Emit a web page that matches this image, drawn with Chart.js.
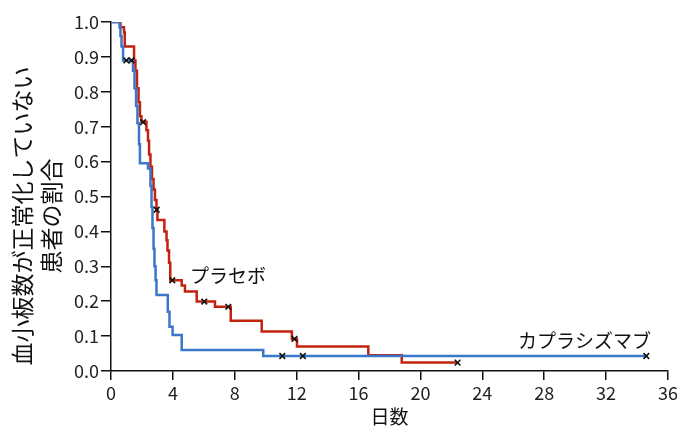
<!DOCTYPE html>
<html>
<head>
<meta charset="utf-8">
<script src="https://cdn.jsdelivr.net/npm/chart.js@4.4.1/dist/chart.umd.min.js"></script>
<style>
  html, body { margin: 0; padding: 0; background: #fff; }
  #chart { display: block; }
</style>
</head>
<body>
<canvas id="chart" width="681" height="430"></canvas>
<script>
// --- Data (days, fraction of patients whose platelet count has not normalised) ---
// Placebo: Kaplan-Meier steps [day, survival]
const placeboSteps = [
  [0, 1.0], [0.61, 0.985], [0.84, 0.97], [0.89, 0.93], [1.49, 0.89], [1.58, 0.86],
  [1.68, 0.81], [1.78, 0.77], [1.87, 0.73], [1.97, 0.714], [2.29, 0.69], [2.39, 0.66],
  [2.46, 0.62], [2.55, 0.585], [2.65, 0.55], [2.75, 0.52], [2.84, 0.49], [2.94, 0.462],
  [3.0, 0.433], [3.45, 0.40], [3.59, 0.375], [3.65, 0.345], [3.75, 0.31], [3.83, 0.26],
  [4.57, 0.245], [4.78, 0.228], [5.54, 0.199], [6.72, 0.184], [7.74, 0.144],
  [9.74, 0.113], [11.69, 0.092], [12.02, 0.07], [16.63, 0.045], [18.79, 0.024], [22.4, 0.024]
];
const placeboCensored = [
  [2.07, 0.713], [2.95, 0.462], [3.96, 0.26], [6.03, 0.199], [7.58, 0.184], [11.86, 0.092], [22.4, 0.024]
];

// Caplacizumab
const caplaSteps = [
  [0, 1.0], [0.55, 0.985], [0.61, 0.96], [0.68, 0.93], [0.78, 0.89], [1.42, 0.86],
  [1.52, 0.81], [1.62, 0.76], [1.71, 0.71], [1.81, 0.65], [1.87, 0.595], [2.39, 0.58],
  [2.55, 0.53], [2.62, 0.47], [2.68, 0.41], [2.75, 0.35], [2.81, 0.30], [2.88, 0.26],
  [2.94, 0.218], [3.67, 0.17], [3.78, 0.127], [3.98, 0.103], [4.57, 0.06], [9.84, 0.043],
  [34.6, 0.043]
];
const caplaCensored = [
  [0.99, 0.89], [1.33, 0.89], [11.07, 0.043], [12.4, 0.043], [34.6, 0.043]
];

const xTicks = [0, 4, 8, 12, 16, 20, 24, 28, 32, 36];
const yTicks = [0, 0.1, 0.2, 0.3, 0.4, 0.5, 0.6, 0.7, 0.8, 0.9, 1.0];

const seriesLabels = [
  { text: 'プラセボ', x: 5.1, y: 0.272 },
  { text: 'カプラシズマブ', x: 26.3, y: 0.086 }
];
const yTitleLines = ['血小板数が正常化していない', '患者の割合'];
const xTitle = '日数';

// --- Styling ---
const RED = '#c3220f';
const BLUE = '#3a77c9';
const FONT = '"Noto Sans CJK JP", "Noto Sans", sans-serif';

const toXY = arr => arr.map(([x, y]) => ({ x, y }));

// Draw in-plot series labels and the two-line y title
const textPlugin = {
  id: 'textPlugin',
  afterDraw(chart) {
    const { ctx, scales: { x, y } } = chart;
    ctx.save();
    ctx.fillStyle = '#111';
    ctx.font = '19px ' + FONT;
    ctx.textBaseline = 'middle';
    ctx.textAlign = 'left';
    seriesLabels.forEach(l => {
      ctx.fillText(l.text, x.getPixelForValue(l.x), y.getPixelForValue(l.y));
    });

    // y title, rotated
    ctx.font = '23px ' + FONT;
    ctx.textAlign = 'center';
    const cy = 216;
    const cols = [22, 51];
    yTitleLines.forEach((line, i) => {
      ctx.save();
      ctx.translate(cols[i], cy);
      ctx.rotate(-Math.PI / 2);
      ctx.fillText(line, 0, 0);
      ctx.restore();
    });
    ctx.restore();
  }
};

Chart.defaults.font.family = FONT;
Chart.defaults.color = '#222';

new Chart(document.getElementById('chart'), {
  type: 'line',
  data: {
    datasets: [
      {
        type: 'scatter',
        label: 'censored',
        data: toXY(placeboCensored.concat(caplaCensored)),
        pointStyle: 'crossRot',
        pointRadius: 4,
        borderColor: '#111',
        backgroundColor: '#111',
        borderWidth: 1.6,
        showLine: false
      },
      {
        label: 'カプラシズマブ',
        data: toXY(caplaSteps),
        stepped: true,
        borderColor: BLUE,
        borderWidth: 2.5,
        pointRadius: 0,
        fill: false
      },
      {
        label: 'プラセボ',
        data: toXY(placeboSteps),
        stepped: true,
        borderColor: RED,
        borderWidth: 2.5,
        pointRadius: 0,
        fill: false
      }
    ]
  },
  options: {
    responsive: false,
    animation: false,
    devicePixelRatio: 1,
    layout: { padding: { top: 22, right: 13, left: 0, bottom: 0 } },
    plugins: {
      legend: { display: false },
      tooltip: { enabled: false }
    },
    scales: {
      x: {
        type: 'linear',
        min: 0,
        max: 36,
        afterBuildTicks: s => { s.ticks = xTicks.map(v => ({ value: v })); },
        afterFit: s => { s.height = 59; },
        ticks: { font: { size: 18 }, padding: 2, color: '#222' },
        grid: { drawOnChartArea: false, drawTicks: true, tickLength: 9, color: '#111', lineWidth: 1.5 },
        border: { display: true, color: '#111', width: 1.5 },
        title: { display: true, text: xTitle, font: { size: 19 }, color: '#111', padding: { top: 0, bottom: 2 } }
      },
      y: {
        type: 'linear',
        min: 0,
        max: 1,
        afterBuildTicks: s => { s.ticks = yTicks.map(v => ({ value: v })); },
        afterFit: s => { s.width = 111; },
        ticks: { font: { size: 18 }, padding: 2, color: '#222', callback: v => v.toFixed(1) },
        grid: { drawOnChartArea: false, drawTicks: true, tickLength: 10, color: '#111', lineWidth: 1.5 },
        border: { display: true, color: '#111', width: 1.5 }
      }
    }
  },
  plugins: [textPlugin]
});
</script>
</body>
</html>
